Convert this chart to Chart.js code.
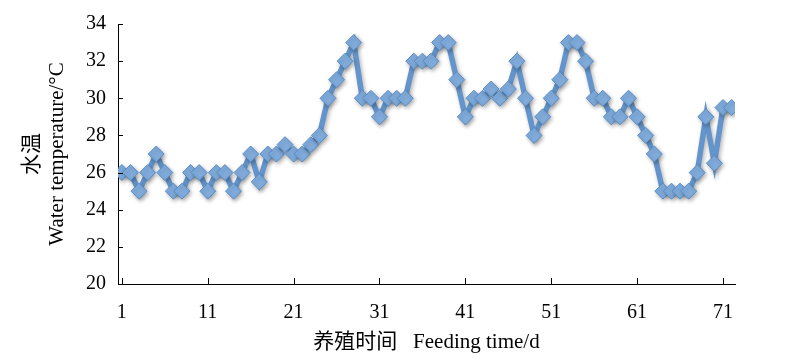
<!DOCTYPE html>
<html>
<head>
<meta charset="utf-8">
<script src="https://cdn.jsdelivr.net/npm/chart.js@4/dist/chart.umd.min.js"></script>
<style>
  html, body { margin: 0; padding: 0; background: #fff; }
  #wrap { width: 788px; height: 363px; }
</style>
</head>
<body>
<div id="wrap"><canvas id="tempChart" width="788" height="363"></canvas></div>
<script>
// feeding days 1..72 and water temperature
const days = [
  1, 2, 3, 4, 5, 6, 7, 8, 9, 10, 11, 12, 13, 14, 15, 16, 17, 18, 19, 20, 21, 22, 23, 24,
  25, 26, 27, 28, 29, 30, 31, 32, 33, 34, 35, 36, 37, 38, 39, 40, 41, 42, 43, 44, 45, 46, 47, 48,
  49, 50, 51, 52, 53, 54, 55, 56, 57, 58, 59, 60, 61, 62, 63, 64, 65, 66, 67, 68, 69, 70, 71, 72,
];
const waterTemp = [
  26, 26, 25, 26, 27, 26, 25, 25, 26, 26, 25, 26, 26, 25, 26, 27, 25.5, 27, 27, 27.5, 27, 27, 27.5, 28,
  30, 31, 32, 33, 30, 30, 29, 30, 30, 30, 32, 32, 32, 33, 33, 31, 29, 30, 30, 30.5, 30, 30.5, 32, 30,
  28, 29, 30, 31, 33, 33, 32, 30, 30, 29, 29, 30, 29, 28, 27, 25, 25, 25, 25, 26, 29, 26.5, 29.5, 29.5,
];
const xTickValues = [1, 11, 21, 31, 41, 51, 61, 71];
const yMin = 20;
const yMax = 34;

const serif = "'Liberation Serif', 'Noto Sans CJK SC', serif";

// tick marks drawn inward like the original figure
const innerTicks = {
  id: "innerTicks",
  afterDraw(chart) {
    const ctx = chart.ctx;
    const xs = chart.scales.x;
    const ys = chart.scales.y;
    ctx.save();
    ctx.strokeStyle = "#000";
    ctx.lineWidth = 1;
    ctx.beginPath();
    xs.ticks.forEach((t) => {
      const px = Math.round(xs.getPixelForValue(t.value)) + 0.5;
      ctx.moveTo(px, ys.bottom);
      ctx.lineTo(px, ys.bottom - 6);
    });
    ys.ticks.forEach((t) => {
      const py = Math.round(ys.getPixelForValue(t.value)) + 0.5;
      ctx.moveTo(xs.left, py);
      ctx.lineTo(xs.left + 5, py);
    });
    ctx.stroke();
    ctx.restore();
  },
};

const lineShadow = {
  id: "lineShadow",
  beforeDatasetsDraw(chart) {
    const ctx = chart.ctx;
    ctx.save();
    ctx.shadowColor = "rgba(0,0,0,0.3)";
    ctx.shadowBlur = 4;
    ctx.shadowOffsetX = 1.5;
    ctx.shadowOffsetY = 2;
  },
  afterDatasetsDraw(chart) {
    chart.ctx.restore();
  },
};

const ctx = document.getElementById("tempChart").getContext("2d");
new Chart(ctx, {
  type: "line",
  data: {
    datasets: [
      {
        data: days.map((d, i) => ({ x: d, y: waterTemp[i] })),
        borderColor: "#6395cc",
        borderWidth: 5.5,
        pointStyle: "rectRot",
        pointRadius: 8,
        pointBackgroundColor: "#80acdc",
        pointBorderColor: "#5b8ec6",
        pointBorderWidth: 1,
        tension: 0,
      },
    ],
  },
  options: {
    responsive: false,
    animation: false,
    layout: { padding: { top: 24, right: 53, left: 20, bottom: 8 } },
    plugins: {
      legend: { display: false },
      tooltip: { enabled: false },
    },
    scales: {
      x: {
        type: "linear",
        min: 0.55,
        max: 72.4,
        afterBuildTicks: (scale) => {
          scale.ticks = xTickValues.map((v) => ({ value: v }));
        },
        afterFit: (scale) => {
          scale.height = 71;
        },
        grid: { display: false, drawTicks: false },
        border: { color: "#000", width: 1 },
        ticks: {
          color: "#000",
          padding: 17,
          maxRotation: 0,
          autoSkip: false,
          font: { family: serif, size: 20 },
        },
        title: {
          display: true,
          text: "养殖时间   Feeding time/d",
          color: "#000",
          padding: { top: 2, bottom: 0 },
          font: { family: serif, size: 21 },
        },
      },
      y: {
        min: yMin,
        max: yMax,
        afterFit: (scale) => {
          scale.width = 98;
        },
        grid: { display: false, drawTicks: false },
        border: { color: "#000", width: 1 },
        ticks: {
          stepSize: 2,
          color: "#000",
          padding: 12,
          font: { family: serif, size: 20 },
        },
        title: {
          display: true,
          text: ["水温", "Water temperature/°C"],
          color: "#000",
          padding: { top: 0, bottom: 0 },
          font: { family: serif, size: 21, lineHeight: 1.2 },
        },
      },
    },
  },
  plugins: [innerTicks, lineShadow],
});
</script>
</body>
</html>
